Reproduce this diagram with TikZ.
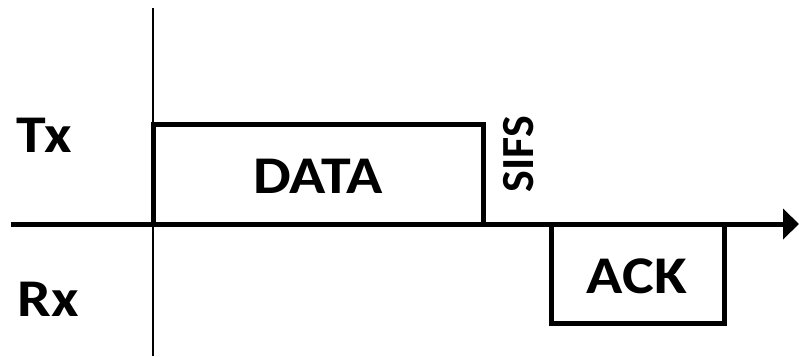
\documentclass[tikz,border=0pt]{standalone}
\usepackage{fontspec}
\setmainfont{Carlito}
\usetikzlibrary{arrows.meta}
\newcommand{\wide}[1]{\scalebox{1.13}[1]{#1}}
\begin{document}
\begin{tikzpicture}[x=1pt,y=-1pt,
  lbl/.style={font=\fontsize{53}{53}\selectfont\bfseries, inner sep=0pt, anchor=center},
  frame/.style={draw=black, line width=5pt, line join=miter},
  axis/.style={draw=black, line width=5pt, -{Triangle[length=16pt,width=30pt]}},
  vline/.style={draw=black, line width=2pt}]
\useasboundingbox (0,0) rectangle (799,356);
\coordinate (vtop) at (153,8);
\coordinate (vbot) at (153,356);
\coordinate (axL) at (11,224);
\coordinate (axR) at (799,224);
\draw[vline] (vtop) -- (vbot);
\draw[frame] (153,224) -- (153,124) -- (483,124) -- (483,224);
\draw[frame] (551,224) -- (551,323) -- (724,323) -- (724,224);
\draw[axis] (axL) -- (axR);
\node[lbl] (tx) at (44,135) {\wide{Tx}};
\node[lbl] (rx) at (48,299) {\wide{Rx}};
\node[lbl] (data) at (318,176) {\wide{DATA}};
\node[lbl] (ack) at (637,276) {\wide{ACK}};
\node[lbl, font=\fontsize{46}{46}\selectfont\bfseries, rotate=90] (sifs) at (519,154) {SIFS};
\end{tikzpicture}
\end{document}
